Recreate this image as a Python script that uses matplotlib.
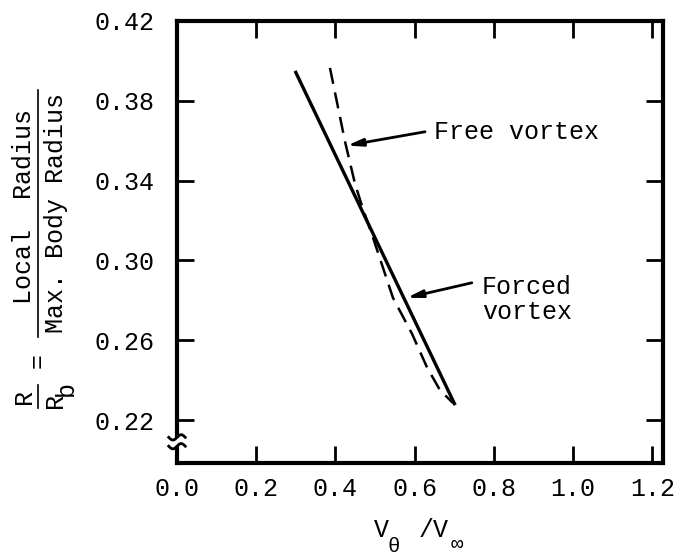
import numpy as np
import matplotlib.pyplot as plt
from matplotlib.lines import Line2D
from matplotlib.patches import Rectangle

plt.rcParams['font.family'] = ['Liberation Mono', 'DejaVu Sans Mono']

# tangential velocity ratio vs radius ratio
forced_v = [0.298, 0.503, 0.702]
forced_r = [0.395, 0.310, 0.2275]

free_v = [0.386, 0.424, 0.449, 0.467, 0.495, 0.545, 0.593, 0.631, 0.664, 0.697]
free_r = [0.3965, 0.3596, 0.3386, 0.3272, 0.3112, 0.2813, 0.2633, 0.2464, 0.2349, 0.2285]

xticks = [0.0, 0.2, 0.4, 0.6, 0.8, 1.0, 1.2]
yticks = [0.22, 0.26, 0.30, 0.34, 0.38, 0.42]

W, H = 685, 558
fig = plt.figure(figsize=(W / 100, H / 100), dpi=100)
ax = fig.add_axes([177 / W, 1 - 463 / H, (663 - 177) / W, (463 - 21) / H])


def fx(px):
    return px / W


def fy(py):
    return 1 - py / H


ax.plot(forced_v, forced_r, color='black', lw=2.4, solid_capstyle='butt')
ax.plot(free_v, free_r, color='black', lw=1.8, dashes=(6.5, 3.5))

ax.set_xlim(0, 1.2265)
ax.set_ylim(0.1985, 0.42)
ax.set_xticks(xticks)
ax.set_xticklabels([f'{v:.1f}' for v in xticks])
ax.set_yticks(yticks)
ax.set_yticklabels([f'{v:.2f}' for v in yticks])

for s in ax.spines.values():
    s.set_linewidth(3)
ax.tick_params(axis='both', which='major', direction='in', length=12, width=2,
               top=True, right=True, labelsize=18)
ax.tick_params(axis='x', pad=10)
ax.tick_params(axis='y', pad=16)

# arrows pointing at each curve
arrow = dict(arrowstyle='-|>,head_length=0.9,head_width=0.22', color='black', lw=2,
             shrinkA=0, shrinkB=0)
ax.annotate('', xy=(0.429, 0.3576), xytext=(0.626, 0.3645), arrowprops=arrow)
ax.text(0.649, 0.3645, 'Free vortex', fontsize=18, va='center', ha='left')
ax.annotate('', xy=(0.580, 0.2813), xytext=(0.744, 0.2888), arrowprops=arrow)
ax.text(0.770, 0.2803, 'Forced\nvortex', fontsize=18, va='center', ha='left',
        linespacing=1.05)

# broken-axis mark on the left spine
ax.add_patch(Rectangle((-0.01, 0.038), 0.02, 0.018, transform=ax.transAxes,
                       facecolor='white', edgecolor='none', clip_on=False, zorder=5))
t = np.linspace(-1, 1, 30)
for y0 in (0.058, 0.038):
    ax.plot(t * 0.017, y0 + 0.006 * np.sin(t * np.pi), transform=ax.transAxes,
            color='black', lw=2, clip_on=False, zorder=6)

# x label: V_theta / V_inf
fig.text(fx(381), fy(530), 'V', fontsize=18, ha='center', va='center')
fig.text(fx(394), fy(546), 'θ', fontsize=15, ha='center', va='center')
fig.text(fx(434), fy(530), '/V', fontsize=18, ha='center', va='center')
fig.text(fx(457), fy(544), '∞', fontsize=15, ha='center', va='center')

# y label: R/Rb = Local Radius / Max. Body Radius
fig.text(fx(24), fy(207), 'Local  Radius', fontsize=18, rotation=90,
         ha='center', va='center')
fig.text(fx(56), fy(213), 'Max. Body Radius', fontsize=18, rotation=90,
         ha='center', va='center')
fig.add_artist(Line2D([fx(38), fx(38)], [fy(90), fy(337)], color='black', lw=1.2))
fig.text(fx(38), fy(360), '=', fontsize=18, rotation=90, ha='center', va='center')
fig.text(fx(24), fy(396), 'R', fontsize=18, rotation=90, ha='center', va='center')
fig.add_artist(Line2D([fx(38), fx(38)], [fy(385), fy(408)], color='black', lw=1.2))
fig.text(fx(55), fy(401), 'R', fontsize=18, rotation=90, ha='center', va='center')
fig.text(fx(66), fy(388), 'b', fontsize=18, rotation=90, ha='center', va='center')

fig.savefig('out.png', dpi=100)
